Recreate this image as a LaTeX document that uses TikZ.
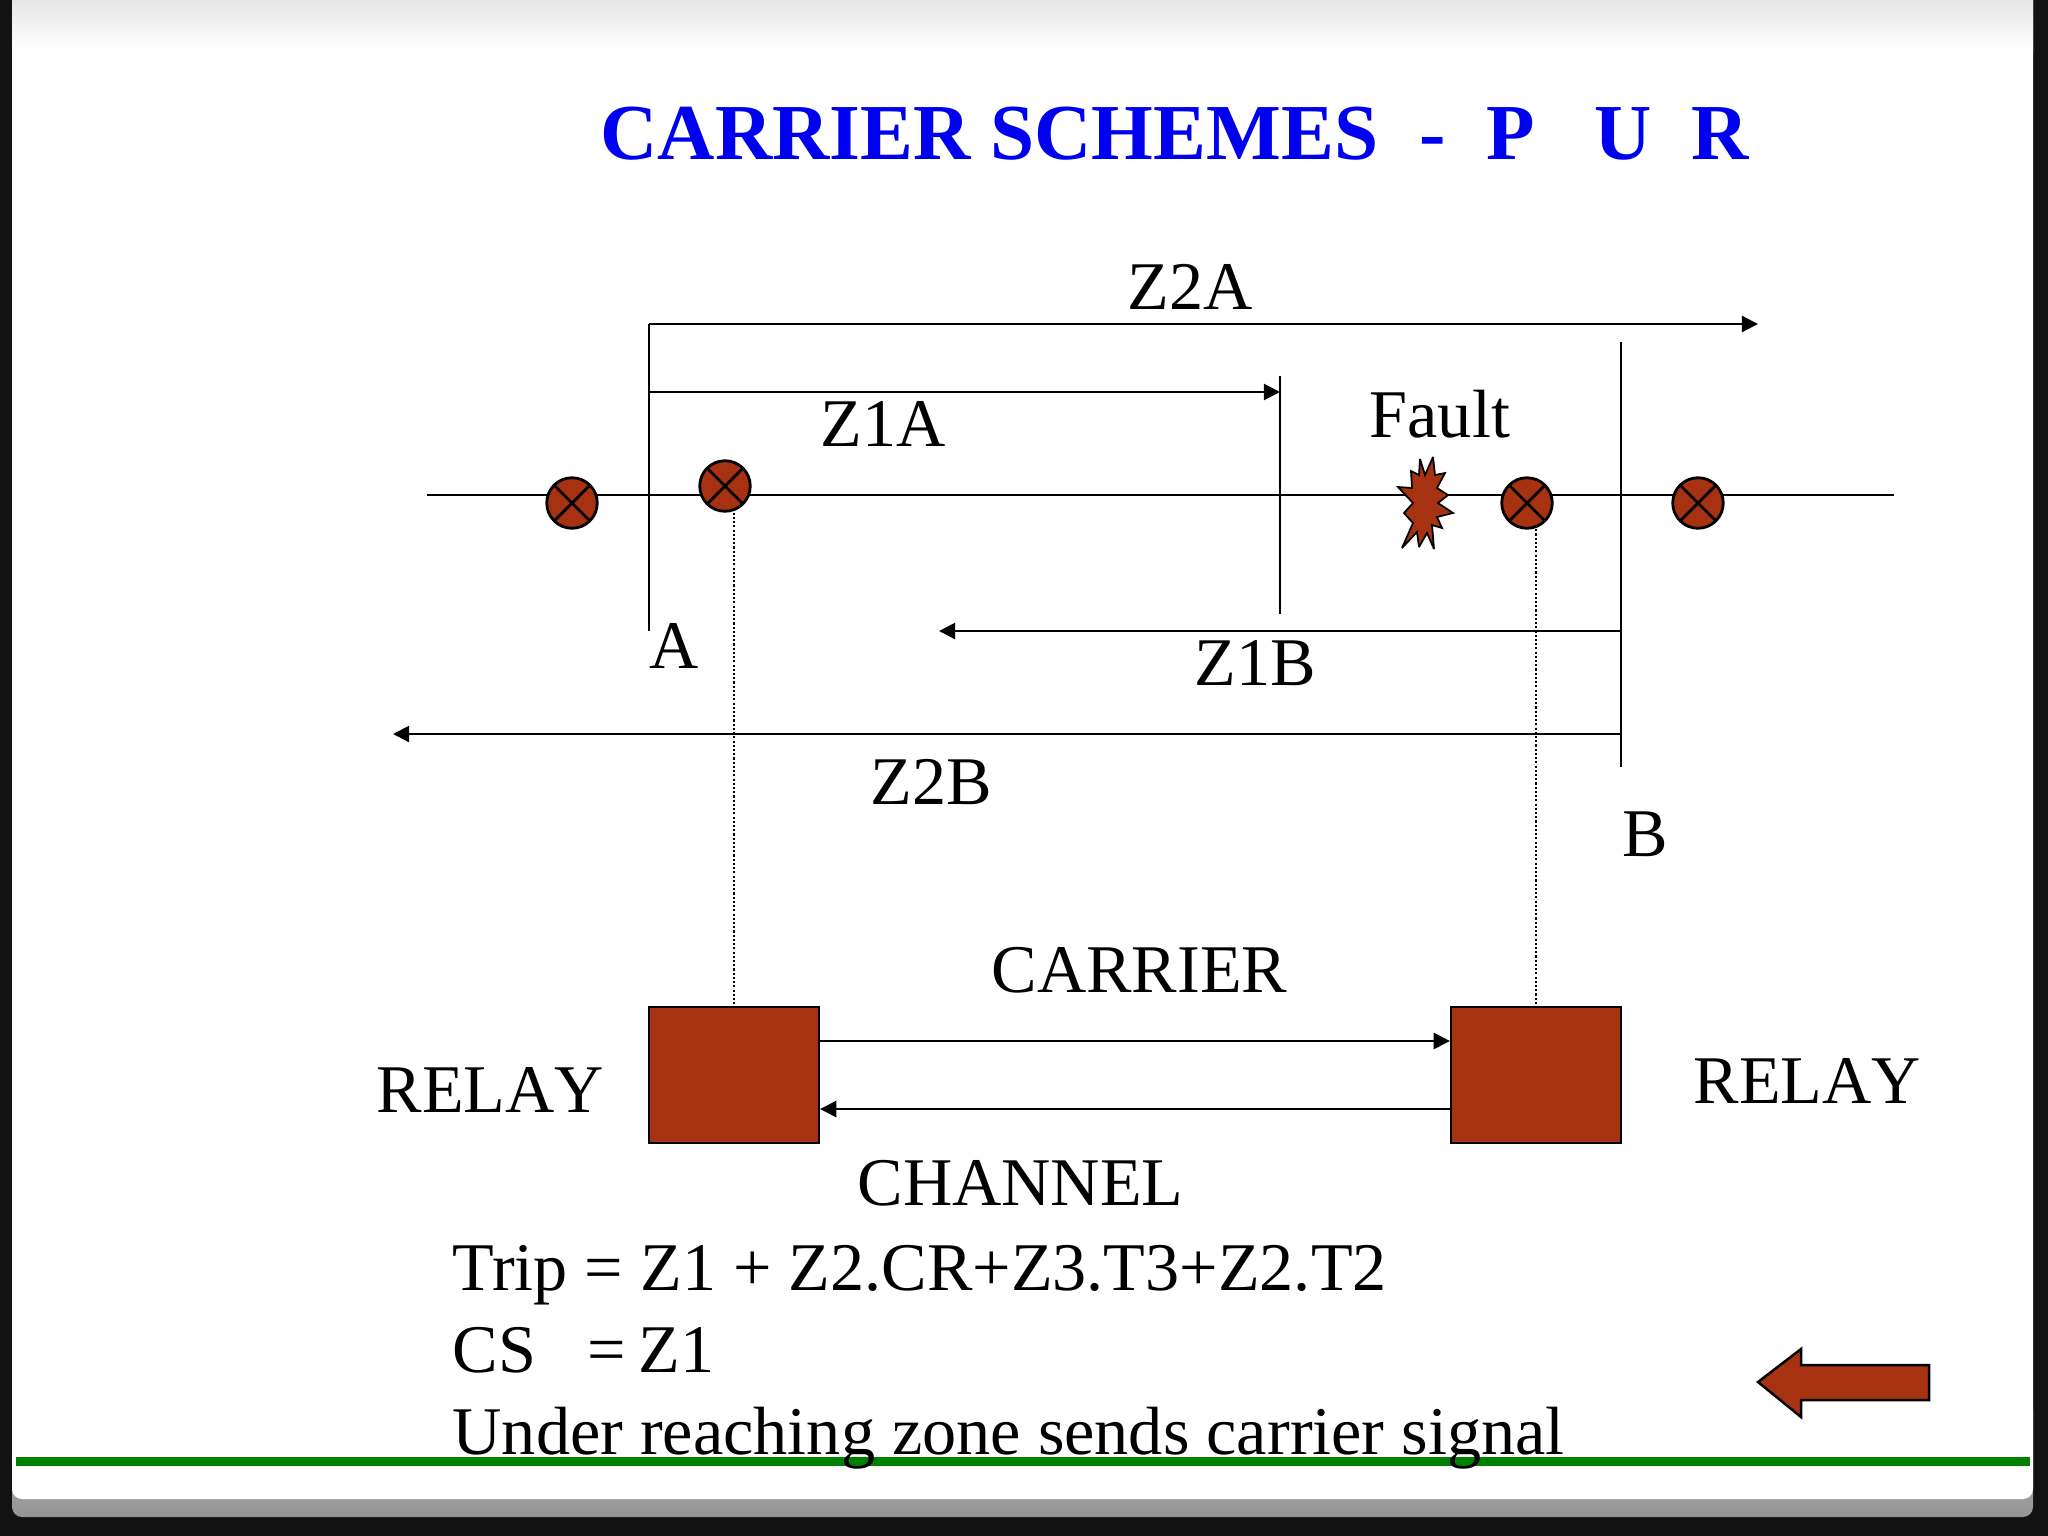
\documentclass[tikz,border=0pt]{standalone}
\usepackage{fontspec}
\setmainfont{Liberation Serif}
\usetikzlibrary{arrows,arrows.meta,positioning,shapes}
\definecolor{relayred}{RGB}{166,50,18}
\definecolor{titleblue}{RGB}{0,0,240}
\definecolor{linegreen}{RGB}{0,128,0}
\tikzset{>=Stealth,
    label/.style={font=\fontsize{19.4}{23}\selectfont,inner sep=0pt,anchor=base west},
    relaylabel/.style={label,font=\fontsize{19.4}{23}\selectfont\addfontfeatures{Kerning=Off}},
    zone/.style={line width=0.6pt,-{Triangle[length=4.6pt,width=4.6pt]}},
    wire/.style={line width=0.6pt},
    probe/.style={line width=0.8pt,dash pattern=on 0.6pt off 0.6pt},
    relaybox/.style={draw,fill=relayred,line width=0.6pt,minimum width=1.70cm,minimum height=1.36cm,inner sep=0pt},
    breaker/.style={circle,draw,fill=relayred,line width=0.8pt,minimum size=0.505cm,inner sep=0pt,
        path picture={\draw[line width=0.8pt] (path picture bounding box.north west) -- (path picture bounding box.south east)
            (path picture bounding box.north east) -- (path picture bounding box.south west);}}
}

\begin{document}
\begin{tikzpicture}[x=0.01cm,y=-0.01cm]
    \useasboundingbox (0,0) rectangle (2048,1536);
    % page
    \fill[black!93] (0,0) rectangle (2048,1536);
    \fill[top color=black!22,bottom color=black!42,rounded corners=0.1cm] (12,1400) rectangle (2033,1517);
    \fill[white,rounded corners=0.1cm] (12,-20) rectangle (2033,1499);
    \fill[top color=black!10,bottom color=white] (12,0) rectangle (2033,50);
    \fill[linegreen] (16,1457) rectangle (2030,1466);

    \node[font=\bfseries\fontsize{22.55}{26}\selectfont,text=titleblue,inner sep=0pt,anchor=base west] (title) at (600,159) {CARRIER SCHEMES\ \ \kern0.4pt-\ \ \kern0.3pt P\ \ \ U\ \ R};

    % line and breakers
    \coordinate (lineL) at (427,495);
    \coordinate (lineR) at (1894,495);
    \draw[wire] (lineL) -- (lineR);
    \node[breaker] (cba) at (572,503) {};
    \node[breaker] (cbb) at (725,486) {};
    \node[breaker] (cbc) at (1527,503) {};
    \node[breaker] (cbd) at (1698,503) {};

    % fault
    \draw[fill=relayred,line width=0.5pt,miter limit=3] (1433,457) -- (1435,475) -- (1445,473) -- (1437,488) -- (1448,495)
        -- (1438,503) -- (1453,513) -- (1437,517) -- (1442,528) -- (1432,525) -- (1434,549) -- (1427,533)
        -- (1419,547) -- (1417,532) -- (1402,548) -- (1413,523) -- (1404,513) -- (1413,503) -- (1398,487)
        -- (1412,488) -- (1411,471) -- (1419,475) -- (1420,459) -- (1425,475) -- cycle;

    % zones
    \coordinate (aTop) at (649,324);
    \coordinate (aBot) at (649,631);
    \coordinate (aMid) at (649,392);
    \coordinate (z2aEnd) at (1758,324);
    \coordinate (z1aEnd) at (1280,392);
    \coordinate (tickTop) at (1280,376);
    \coordinate (tickBot) at (1280,614);
    \coordinate (bTop) at (1621,342);
    \coordinate (bBot) at (1621,767);
    \coordinate (bZa) at (1621,631);
    \coordinate (bZb) at (1621,734);
    \coordinate (z1bEnd) at (939,631);
    \coordinate (z2bEnd) at (393,734);
    \draw[wire] (aTop) -- (aBot);
    \draw[wire] (tickTop) -- (tickBot);
    \draw[wire] (bTop) -- (bBot);
    \draw[zone] (aTop) -- (z2aEnd);
    \draw[zone] (aMid) -- (z1aEnd);
    \draw[zone] (bZa) -- (z1bEnd);
    \draw[zone] (bZb) -- (z2bEnd);

    % relays
    \node[relaybox] (relayA) at (734,1075) {};
    \node[relaybox] (relayB) at (1536,1075) {};
    \draw[probe] (cbb.south -| relayA.north) -- (relayA.north);
    \draw[probe] (1536,525) -- (relayB.north);
    \draw[zone] ([yshift=0.34cm]relayA.east) -- ([yshift=0.34cm]relayB.west);
    \draw[zone] ([yshift=-0.34cm]relayB.west) -- ([yshift=-0.34cm]relayA.east);

    % return arrow
    \draw[fill=relayred,line width=0.7pt] (1758,1382) -- (1801,1349) -- (1801,1365) -- (1929,1365)
        -- (1929,1400) -- (1801,1400) -- (1801,1417) -- cycle;

    % texts
    \node[label] (z2a) at (1127,309) {Z2A};
    \node[label] (z1a) at (820,446) {Z1A};
    \node[label] (fault) at (1369,437) {Fault};
    \node[label] (ptA) at (649,668) {A};
    \node[label] (z1b) at (1194,685) {Z1B};
    \node[label] (z2b) at (870,804) {Z2B};
    \node[label] (ptB) at (1622,856) {B};
    \node[label] (carrier) at (991,992) {CARRIER};
    \node[relaylabel] (relayL) at (376,1112) {RELAY};
    \node[relaylabel] (relayR) at (1693,1103) {RELAY};
    \node[label] (channel) at (857,1205) {CHANNEL};
    \node[label] (trip) at (452,1290) {Trip = Z1 + Z2.CR+Z3.T3+Z2.T2};
    \node[label] (cs) at (452,1372) {CS\ \ \ =\kern-1.2pt\ Z1};
    \node[label] (under) at (452,1454) {Under reaching zone sends carrier signal};
\end{tikzpicture}
\end{document}
